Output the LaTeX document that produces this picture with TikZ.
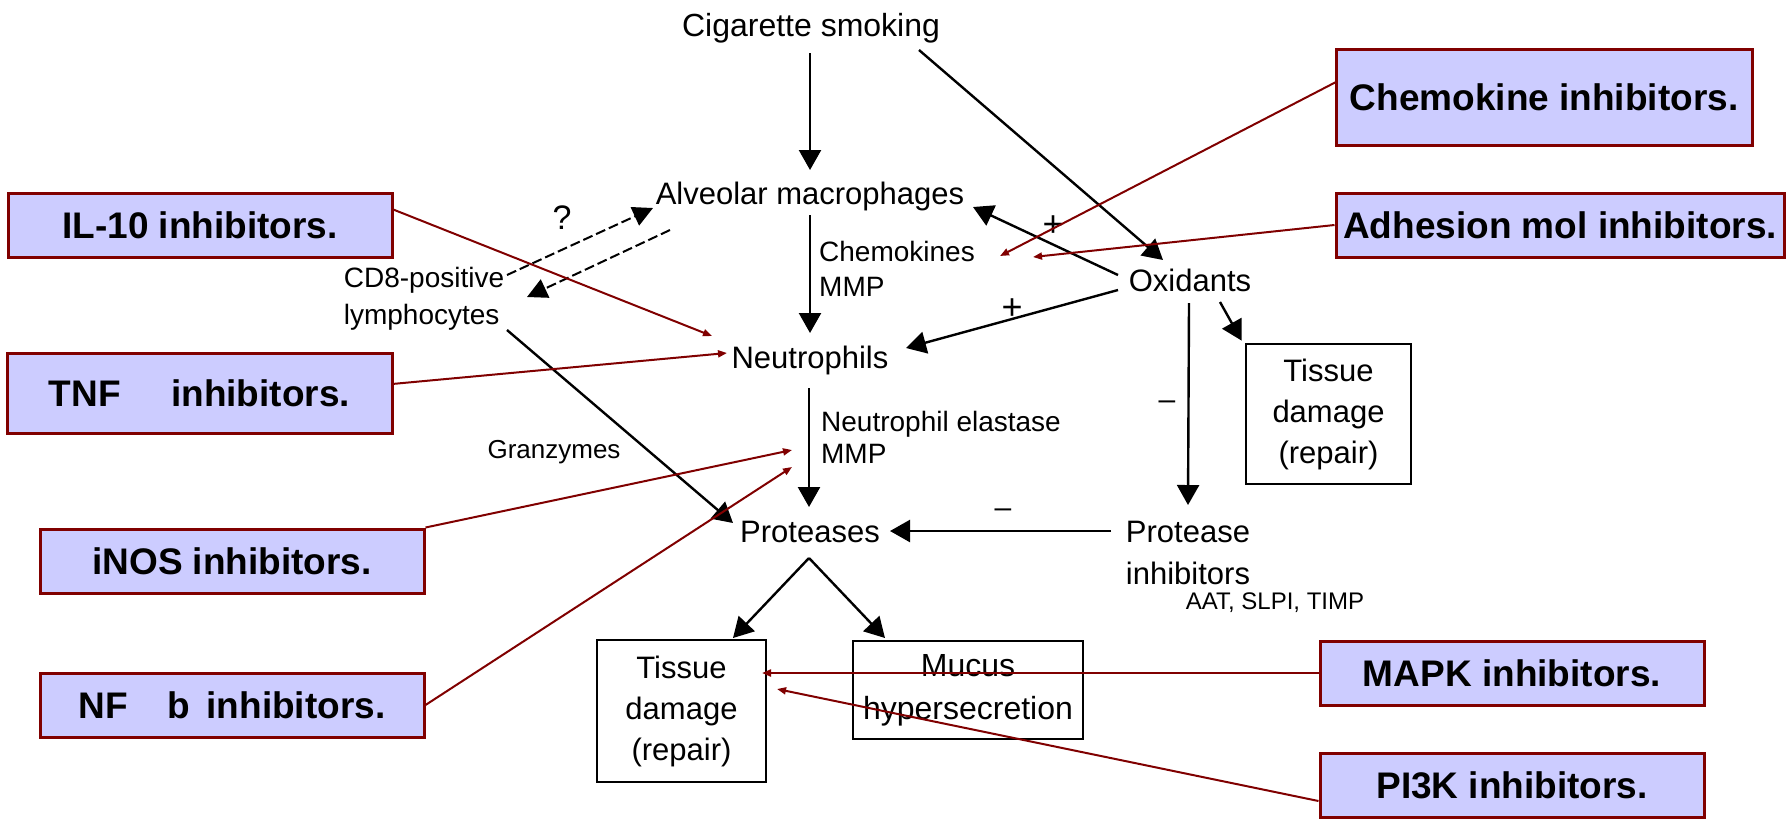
\documentclass[tikz,border=0pt]{standalone}
\usepackage{fontspec}
\setmainfont{Liberation Sans}
\usetikzlibrary{arrows.meta,calc}
\definecolor{dred}{HTML}{800000}
\definecolor{bfill}{HTML}{CCCCFF}
\begin{document}
\begin{tikzpicture}[x=0.5pt,y=-0.5pt,
  lbl/.style={inner sep=0pt, font=\fontsize{15.5}{18}\selectfont, text height=14pt, text depth=2.5pt},
  lblsm/.style={inner sep=0pt, font=\fontsize{14}{17}\selectfont, align=left},
  ibox/.style={draw=dred, fill=bfill, line width=1.5pt, inner sep=0pt,
     font=\fontsize{18.5}{22}\selectfont\bfseries, minimum height=32pt, minimum width=192pt},
  bbox/.style={draw, line width=1.4pt, inner sep=0pt, align=center},
  blk/.style={line width=1.2pt, -{Triangle[length=10pt,width=11pt]}},
  dsh/.style={line width=1pt, draw=black, dash pattern=on 5pt off 2pt, -{Triangle[length=10pt,width=10pt]}},
  rarr/.style={draw=dred, line width=1pt, -{Triangle[length=4.5pt,width=3.5pt]}}
]
\path[use as bounding box] (0,0) rectangle (1787,821);

% ---- diagram labels ----
\node[lbl, font=\fontsize{16}{18}\selectfont] (smoke) at (811,25) {Cigarette smoking};
\node[lbl] (alv) at (810,193) {Alveolar macrophages};
\node[lbl] (neut) at (810,357) {Neutrophils};
\node[lbl] (prot) at (810,531) {Proteases};
\node[lbl] (oxid) at (1190,280) {Oxidants};
\node[inner sep=0pt, align=left, font=\fontsize{15.5}{21}\selectfont] (pinh) at (1188,553) {Protease\\inhibitors};
\node[inner sep=0pt, font=\fontsize{12}{14}\selectfont] (aat) at (1275,603) {AAT, SLPI, TIMP};
\node[inner sep=0pt, align=left, font=\fontsize{14}{18.5}\selectfont] (cd8) at (424,299) {CD8-positive\\lymphocytes};
\node[lblsm, font=\fontsize{14}{17.5}\selectfont] (chem) at (897,268.5) {Chemokines\\MMP};
\node[lblsm, font=\fontsize{14}{16}\selectfont] (nel) at (941,437) {Neutrophil elastase\\MMP};
\node[inner sep=0pt, font=\fontsize{13}{15}\selectfont] (gran) at (554,452) {Granzymes};
\node[inner sep=0pt, font=\fontsize{17}{19}\selectfont] (qmark) at (562,218) {?};
\node[inner sep=0pt, font=\fontsize{18}{20}\selectfont] (plusA) at (1053,226) {+};
\node[inner sep=0pt, font=\fontsize{18}{20}\selectfont] (plusB) at (1012,309) {+};
\node[inner sep=0pt, font=\fontsize{15}{17}\selectfont] (minusA) at (1167,405) {\textendash};
\node[inner sep=0pt, font=\fontsize{15}{17}\selectfont] (minusB) at (1003,513) {\textendash};

% ---- boxed outcomes ----
\node[bbox, font=\fontsize{15.5}{20.5}\selectfont, minimum width=82.5pt, minimum height=70pt] (tdr) at (1328.5,414) {Tissue\\damage\\(repair)};
\node[bbox, font=\fontsize{15.5}{20.5}\selectfont, minimum width=84.5pt, minimum height=71pt] (tdl) at (681.5,711) {Tissue\\damage\\(repair)};
\node[bbox, font=\fontsize{16}{21.5}\selectfont, minimum width=115pt, minimum height=49pt] (mucus) at (968,690) {Mucus\\hypersecretion};

% ---- inhibitor boxes ----
\node[ibox, minimum width=208pt, minimum height=48pt] (bchem) at (1544,97) {Chemokine inhibitors.};
\node[ibox, minimum width=224pt] (badh) at (1560,225) {Adhesion mol inhibitors.};
\node[ibox] (bil) at (200,225) {IL-10 inhibitors.};
\node[ibox, minimum width=192.5pt, minimum height=40pt] (btnf) at (199.5,393) {TNF\hspace{20pt} inhibitors.};
\node[ibox] (binos) at (232,561) {iNOS inhibitors.};
\node[ibox] (bnf) at (232,705) {NF\hspace{20pt}b\hspace{8pt}inhibitors.};
\node[ibox] (bmapk) at (1512,673) {MAPK inhibitors.};
\node[ibox] (bpi3k) at (1512,785) {PI3K inhibitors.};

% ---- black arrows ----
\draw[blk] ($(smoke.center)+(-1,28)$) -- ($(alv.center)+(0,-23)$);
\draw[blk] ($(alv.center)+(0,22)$) -- ($(neut.center)+(0,-24)$);
\draw[blk] ($(neut.center)+(-1,31)$) -- ($(prot.center)+(-1,-24)$);
\draw[blk] ($(pinh.center)+(-77,-22)$) -- ($(prot.center)+(80,0)$);
\draw[blk] ($(smoke.center)+(108,25)$) -- ($(oxid.center)+(-27,-20)$);
\draw[blk] ($(oxid.center)+(-72,-5)$) -- ($(alv.center)+(163,14)$);
\draw[blk] ($(oxid.center)+(-72,10)$) -- ($(neut.center)+(96,-9)$);
\draw[blk] ($(oxid.center)+(-1,23)$) -- ($(pinh.center)+(0,-48)$);
\draw[blk] ($(oxid.center)+(30,22)$) -- ($(tdr.north west)+(-3,-2)$);
\draw[blk] ($(cd8.center)+(83,31)$) -- ($(prot.center)+(-77,-8)$);
\draw[blk] ($(prot.center)+(-1,27)$) -- ($(tdl.center)+(51.5,-73)$);
\draw[blk] ($(prot.center)+(-1,27)$) -- ($(mucus.center)+(-83,-52)$);
\draw[dsh] ($(cd8.center)+(83,-24)$) -- ($(alv.center)+(-157,15)$);
\draw[dsh] ($(alv.center)+(-140,37)$) -- ($(cd8.center)+(103,-2)$);

% ---- red inhibitor pointers ----
\draw[rarr] ($(bchem.center)+(-208,-15)$) -- ($(chem.center)+(103,-12.5)$);
\draw[rarr] (badh.west) -- ($(chem.center)+(136,-11.5)$);
\draw[rarr] ($(bil.center)+(192,-16)$) -- ($(neut.center)+(-98,-21)$);
\draw[rarr] ($(btnf.center)+(192.5,-9)$) -- ($(neut.center)+(-83,-4)$);
\draw[rarr] (binos.north east) -- ($(nel.center)+(-149,13)$);
\draw[rarr] (bnf.east) -- ($(nel.center)+(-149,30)$);
\draw[rarr] (bmapk.west) -- ($(tdl.center)+(80.5,-38)$);
\draw[rarr] ($(bpi3k.west)+(0,16)$) -- ($(tdl.center)+(95.5,-22)$);
\end{tikzpicture}
\end{document}
